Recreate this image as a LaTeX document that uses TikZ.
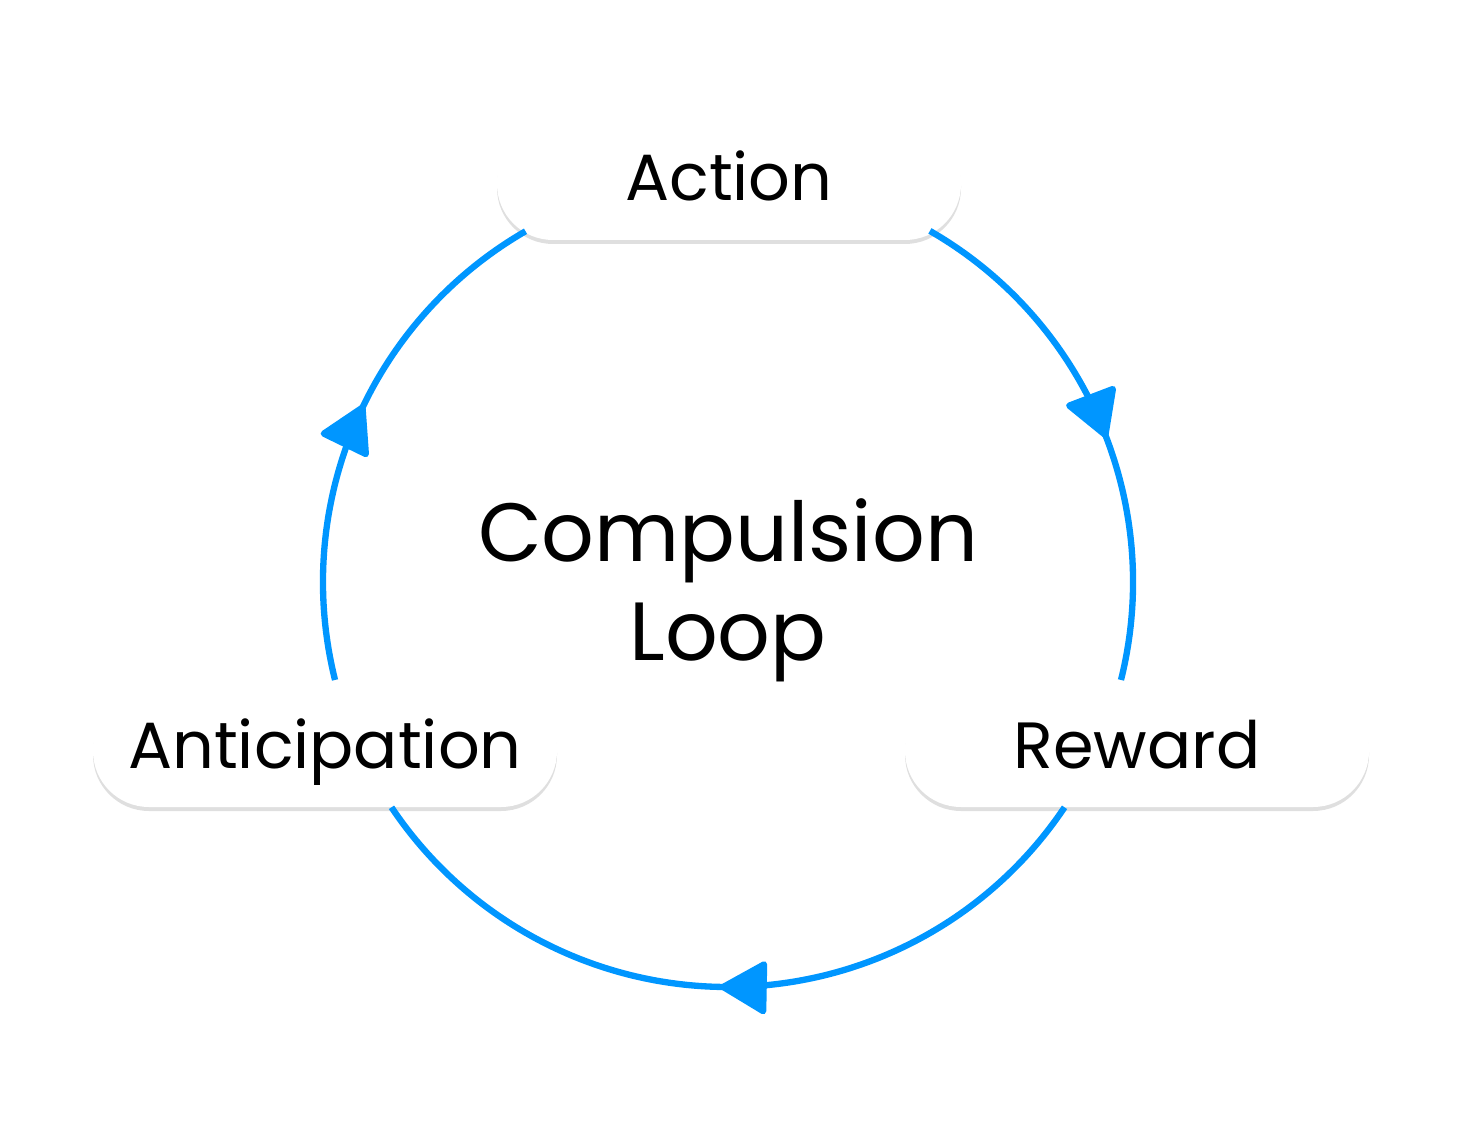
\documentclass[tikz,border=0pt]{standalone}
\usepackage{fontspec}
\setmainfont{Poppins}
\usetikzlibrary{arrows.meta,decorations.markings,shadows}
\definecolor{loopblue}{RGB}{0,150,255}

\begin{document}
\begin{tikzpicture}[
	stage/.style={fill=white, rounded corners=0.56cm, minimum width=4.64cm, minimum height=1.14cm,
		text height=0.46cm, text depth=0.1cm, font=\fontsize{18.6}{22}\selectfont,
		drop shadow={shadow xshift=0pt, shadow yshift=-0.04cm, opacity=0.18, fill=black!70}},
	flowtip/.tip={Triangle[length=0.5cm, width=0.56cm, round]},
	flow/.style={loopblue, line width=1.8pt, postaction={decorate},
		decoration={markings, mark=at position #1 with {\arrow{flowtip}}}}]
	\useasboundingbox (0,0) rectangle (14.62,-11.35);
	\coordinate (hub) at (7.28,-5.82);
	\node [font=\fontsize{23.5}{28.2}\selectfont, align=center] (title) at (7.28,-5.9) {Compulsion\\Loop};
	\node [stage] (act) at (7.29,-1.83) {Action};
	\node [stage] (rew) at (11.37,-7.5) {Reward};
	\node [stage] (anti) at (3.25,-7.5) {Anticipation};
	\draw [flow=0.53] (hub) ++(60.1:4.05) arc [start angle=60.1, end angle=-14, radius=4.05];
	\draw [flow=0.51] (hub) ++(-33.8:4.05) arc [start angle=-33.8, end angle=-146.2, radius=4.05];
	\draw [flow=0.54] (hub) ++(194:4.05) arc [start angle=194, end angle=120, radius=4.05];
\end{tikzpicture}
\end{document}
